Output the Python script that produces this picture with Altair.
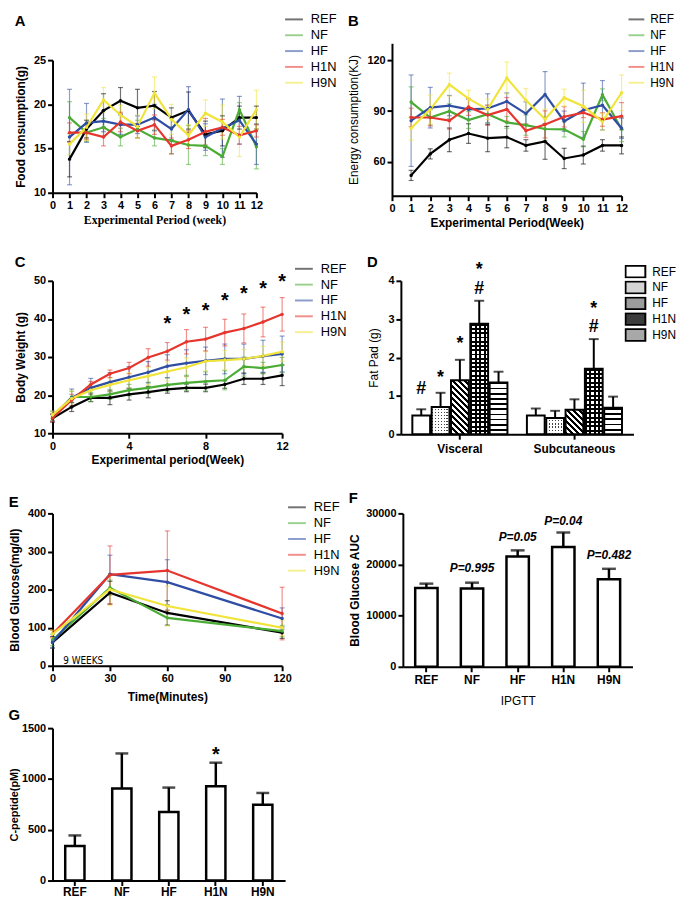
import altair as alt
import pandas as pd

GROUPS = ["REF", "NF", "HF", "H1N", "H9N"]
COLORS = ["#000000", "#4aac34", "#2f4ea3", "#e5352d", "#f0e43a"]
FONT = "Liberation Sans"

# ---------------- Panel A: food consumption ----------------
weeks_a = list(range(1, 13))
a_ref = [13.8, 17.2, 19.3, 20.4, 19.6, 19.85, 18.5, 19.3, 16.6, 17.0, 18.5, 18.5]
a_nf = [18.5, 16.8, 17.4, 16.3, 17.2, 16.2, 15.9, 15.4, 15.3, 14.1, 19.4, 15.2]
a_hf = [16.3, 17.9, 18.1, 17.7, 17.7, 18.5, 17.2, 19.4, 16.3, 17.3, 18.2, 15.5]
a_h1n = [16.8, 16.8, 16.3, 18.0, 17.0, 17.7, 15.3, 16.0, 16.9, 17.4, 16.5, 17.0]
a_h9n = [15.5, 17.4, 20.5, 18.8, 17.5, 21.3, 18.3, 16.5, 19.0, 18.0, 16.3, 19.4]
a_ref_e = [2.0, 1.0, 1.9, 1.5, 2.1, 1.6, 1.1, 2.1, 1.5, 1.7, 1.3, 1.3]
a_nf_e = [1.8, 1.0, 1.0, 1.0, 1.0, 0.9, 1.5, 2.2, 1.1, 0.9, 0.8, 2.5]
a_hf_e = [5.4, 2.2, 1.2, 1.1, 1.0, 1.5, 1.2, 2.6, 1.5, 3.3, 2.7, 2.3]
a_h1n_e = [1.1, 0.8, 1.0, 1.1, 0.8, 1.1, 0.9, 1.0, 1.5, 0.9, 1.0, 0.7]
a_h9n_e = [1.2, 1.5, 1.4, 1.1, 1.3, 1.8, 1.7, 1.2, 1.5, 1.9, 2.2, 2.2]

# ---------------- Panel B: energy consumption ----------------
weeks_b = list(range(1, 13))
b_ref = [52, 64.7, 73, 76.7, 74, 74.6, 69.7, 72, 62, 64, 69.7, 69.7]
b_nf = [95.3, 86.2, 89.9, 84.7, 88.2, 83.3, 81.7, 79.4, 79.2, 73.4, 99.6, 79.2]
b_hf = [84.3, 92, 93.2, 91, 91.5, 95.7, 88.5, 99.8, 84, 90.5, 93.4, 79.8]
b_h1n = [86.2, 86.2, 84.3, 92.4, 87.6, 91, 78.4, 82.1, 86.6, 89.1, 85, 87]
b_h9n = [79.8, 91, 105.6, 97.3, 91, 109.5, 96.3, 85.2, 97.9, 92.8, 83.7, 100.8]
b_ref_e = [3, 3, 7, 5.8, 8, 6.3, 3.4, 10.5, 6, 5.3, 3.4, 5]
b_nf_e = [9, 4.5, 4.4, 5, 5, 3.5, 6, 7, 4.5, 4.5, 3.5, 7.3]
b_hf_e = [27, 12, 6, 6, 8.7, 5, 7, 13.5, 6, 16, 14.6, 6]
b_h1n_e = [5.5, 5, 5, 5, 6, 7, 4, 8, 6, 3, 4, 8]
b_h9n_e = [7, 8.5, 6.8, 5, 6, 9.5, 7, 6, 5, 9.5, 5, 10.5]

# ---------------- Panel C: body weight ----------------
weeks_c = list(range(0, 13))
c_ref = [13.9, 16.9, 19.3, 19.3, 20.2, 20.8, 21.5, 21.9, 21.9, 22.8, 24.3, 24.3, 25.2]
c_nf = [14.2, 19.5, 19.5, 20.2, 21.3, 21.9, 22.7, 23.2, 23.6, 23.9, 27.5, 27.1, 27.9]
c_hf = [14.5, 19.3, 21.9, 23.4, 24.7, 26.0, 27.6, 28.4, 29.0, 29.5, 29.5, 30.2, 30.8]
c_h1n = [14.0, 18.7, 22.8, 25.6, 27.1, 29.9, 31.5, 34.0, 34.7, 36.4, 37.5, 39.2, 41.2]
c_h9n = [14.8, 19.1, 21.3, 22.7, 23.9, 25.0, 26.2, 27.3, 28.9, 29.2, 29.5, 30.3, 31.4]
c_ref_e = [1.0, 1.2, 1.0, 1.8, 1.5, 1.5, 1.0, 1.0, 1.0, 1.0, 1.5, 1.5, 2.7]
c_nf_e = [1.0, 1.5, 1.2, 1.3, 1.5, 1.5, 1.8, 2.0, 2.5, 2.5, 2.5, 1.5, 2.0]
c_hf_e = [1.3, 2.3, 2.5, 2.5, 2.8, 2.8, 3.0, 3.5, 3.6, 3.9, 3.9, 4.2, 4.7]
c_h1n_e = [1.0, 1.5, 0.8, 1.0, 1.5, 2.3, 2.3, 3.2, 3.1, 3.5, 3.8, 3.9, 4.4]
c_h9n_e = [1.0, 2.0, 1.5, 1.8, 2.0, 2.3, 2.5, 2.5, 2.5, 2.5, 2.5, 2.5, 2.5]
c_star_weeks = [6, 7, 8, 9, 10, 11, 12]
c_star_y = [39.9, 42.2, 43.3, 45.9, 47.7, 49.1, 51.1]

# ---------------- Panel D: fat pad ----------------
REGIONS = ["Visceral", "Subcutaneous"]
d_visceral = [0.49, 0.71, 1.41, 2.88, 1.35]
d_visceral_e = [0.16, 0.37, 0.53, 0.60, 0.28]
d_subcut = [0.49, 0.42, 0.64, 1.71, 0.69]
d_subcut_e = [0.18, 0.19, 0.27, 0.77, 0.29]
d_mark_region = ["Visceral", "Visceral", "Visceral", "Visceral", "Visceral", "Subcutaneous", "Subcutaneous"]
d_mark_group = ["REF", "NF", "HF", "H1N", "H1N", "H1N", "H1N"]
d_mark_text = ["#", "*", "*", "#", "*", "#", "*"]
d_mark_y = [1.18, 1.6, 2.47, 3.78, 4.4, 2.79, 3.4]
D_LEGEND_FILLS = ["#ffffff", "#d4d4d4", "#9c9c9c", "#3c3c3c", "#a8a8a8"]

# ---------------- Panel E: IPGTT ----------------
times_e = [0, 30, 60, 120]
e_ref = [61.6, 191.8, 138.8, 86.8]
e_nf = [67.7, 204.8, 125.8, 91.1]
e_hf = [61.6, 240.3, 219.5, 124.0]
e_h1n = [83.3, 238.6, 249.9, 137.1]
e_h9n = [83.3, 200.4, 157.0, 99.8]
e_ref_e = [15, 30, 32, 15]
e_nf_e = [15, 20, 20, 15]
e_hf_e = [15, 50, 59, 28]
e_h1n_e = [10, 76, 104, 69]
e_h9n_e = [10, 42, 52, 20]

# ---------------- Panel F: AUC ----------------
f_auc = [15420, 15290, 21550, 23420, 17100]
f_auc_e = [840, 1160, 1220, 2840, 2060]
f_p_group = ["NF", "HF", "H1N", "H9N"]
f_p_text = ["P=0.995", "P=0.05", "P=0.04", "P=0.482"]
f_p_y = [19220, 25280, 28510, 21930]

# ---------------- Panel G: C-peptide ----------------
g_cpep = [340, 907, 674, 927, 745]
g_cpep_e = [104, 344, 241, 233, 117]
g_star_group = ["H1N"]
g_star_y = [1283]


def long_df(xs, series, errs):
    rows = []
    for g, vals, es in zip(GROUPS, series, errs):
        for x, v, e in zip(xs, vals, es):
            rows.append({"x": x, "group": g, "value": v, "lo": v - e, "hi": v + e})
    return pd.DataFrame(rows)


def panel_title(letter, dy=0):
    return alt.TitleParams(letter, anchor="start", fontSize=15, fontWeight="bold",
                           font=FONT, color="black", offset=4, dy=dy)


def line_panel(df, xdom, xticks, ydom, yticks, yrange, xtitle, ytitle, legx, legy,
               xtitle_font=FONT, ytitle_weight="bold", title_pad_y=6, title_pad_x=4,
               leg_font=13, leg_sym=324, leg_off=7):
    xs = alt.Scale(domain=xdom, nice=False, zero=False)
    ys_kw = dict(domain=ydom, nice=False, zero=False)
    if yrange is not None:
        ys_kw["range"] = yrange
    ys = alt.Scale(**ys_kw)
    xax = alt.Axis(values=xticks, title=xtitle, titleFont=xtitle_font, labelFlush=False,
                   labelOverlap=False, titlePadding=title_pad_x, labelPadding=2, format="d")
    yax = alt.Axis(values=yticks, title=ytitle, titleFontWeight=ytitle_weight,
                   titlePadding=title_pad_y, labelPadding=2, format="d")
    legend = alt.Legend(orient="none", legendX=legx, legendY=legy, title=None,
                        symbolType="stroke", symbolStrokeWidth=2, symbolSize=leg_sym,
                        labelFontSize=leg_font, labelFont=FONT, labelColor="black",
                        labelOffset=leg_off, clipHeight=13.7, rowPadding=2)
    col = alt.Color("group:N", scale=alt.Scale(domain=GROUPS, range=COLORS), legend=legend)
    X = alt.X("x:Q", scale=xs, axis=xax)

    base = alt.Chart(df)
    err = base.mark_rule(strokeWidth=1.2, opacity=0.55).encode(
        x=X, y=alt.Y("lo:Q", scale=ys, axis=yax), y2="hi:Q", color=col)
    cap_hi = base.mark_tick(orient="horizontal", size=5, thickness=1.2, opacity=0.55).encode(
        x=X, y=alt.Y("hi:Q", scale=ys, axis=yax), color=col)
    cap_lo = base.mark_tick(orient="horizontal", size=5, thickness=1.2, opacity=0.55).encode(
        x=X, y=alt.Y("lo:Q", scale=ys, axis=yax), color=col)
    line = base.mark_line(strokeWidth=2.2).encode(
        x=X, y=alt.Y("value:Q", scale=ys, axis=yax), color=col)
    pts = base.mark_circle(size=12, opacity=1).encode(
        x=X, y=alt.Y("value:Q", scale=ys, axis=yax), color=col)
    return [err, cap_hi, cap_lo, line, pts], ys, yax


# ----- A -----
dfa = long_df(weeks_a, [a_ref, a_nf, a_hf, a_h1n, a_h9n],
              [a_ref_e, a_nf_e, a_hf_e, a_h1n_e, a_h9n_e])
layers_a, _, _ = line_panel(dfa, [0, 12], list(range(13)), [10, 25], [10, 15, 20, 25], [151, 17],
                            "Experimental Period (week)", "Food consumption(g)", 234, -31,
                            xtitle_font="Liberation Serif")
chart_a = alt.layer(*layers_a).properties(width=206, height=151, title=panel_title("A", 21))

# ----- B -----
dfb = long_df(weeks_b, [b_ref, b_nf, b_hf, b_h1n, b_h9n],
              [b_ref_e, b_nf_e, b_hf_e, b_h1n_e, b_h9n_e])
layers_b, _, _ = line_panel(dfb, [0, 12], list(range(13)), [40, 130], [60, 90, 120], None,
                            "Experimental Period(Week)", "Energy consumption(KJ)", 238, -31,
                            ytitle_weight="normal", leg_font=12, leg_sym=256, leg_off=5)
chart_b = alt.layer(*layers_b).properties(width=232, height=154, title=panel_title("B", 21))

# ----- C -----
dfc = long_df(weeks_c, [c_ref, c_nf, c_hf, c_h1n, c_h9n],
              [c_ref_e, c_nf_e, c_hf_e, c_h1n_e, c_h9n_e])
layers_c, ysc, yaxc = line_panel(dfc, [0, 12], list(range(13)), [10, 50], [10, 20, 30, 40, 50], None,
                                 "Experimental period(Week)", "Body Weight (g)", 244, -19)
stars_c = alt.Chart(pd.DataFrame({"x": c_star_weeks, "y": c_star_y, "t": ["*"] * 7})).mark_text(
    fontSize=20, fontWeight="bold", font=FONT, color="black", baseline="middle", dy=5).encode(
    x=alt.X("x:Q", scale=alt.Scale(domain=[0, 12], nice=False, zero=False)),
    y=alt.Y("y:Q", scale=ysc, axis=yaxc), text="t:N")
chart_c = alt.layer(*layers_c, stars_c).properties(width=232, height=154, title=panel_title("C", 12))

# ----- D -----
rows_d = []
for r, vals, errs in [("Visceral", d_visceral, d_visceral_e), ("Subcutaneous", d_subcut, d_subcut_e)]:
    for g, v, e in zip(GROUPS, vals, errs):
        rows_d.append({"region": r, "group": g, "value": v, "upper": v + e})
dfd = pd.DataFrame(rows_d)

D_W, D_H = 235, 155
xd = alt.X("region:N", scale=alt.Scale(domain=REGIONS, paddingInner=0.17, paddingOuter=0.1),
           axis=alt.Axis(title=None, labelAngle=0, labelFontSize=12, labelPadding=4))
xod = alt.XOffset("group:N", scale=alt.Scale(domain=GROUPS, paddingInner=0.08))
yd_scale = alt.Scale(domain=[0, 4], nice=False, zero=True)
yd_axis = alt.Axis(values=[0, 1, 2, 3, 4], title="Fat Pad (g)", titleFontWeight="normal",
                   titlePadding=8, labelPadding=2, format="d")
yd = alt.Y("value:Q", scale=yd_scale, axis=yd_axis)

d_legend = alt.Legend(orient="none", legendX=226, legendY=-16, title=None,
                      symbolType="M-1,-0.6H1V0.6H-1Z", symbolSize=400,
                      symbolStrokeColor="black", symbolStrokeWidth=2, symbolOpacity=1,
                      labelFontSize=12, labelFont=FONT, labelColor="black",
                      labelOffset=6, clipHeight=13.5, rowPadding=2)
based = alt.Chart(dfd)
d_layers = [based.mark_bar(strokeWidth=0).encode(
    x=xd, xOffset=xod, y=yd,
    fill=alt.Fill("group:N", scale=alt.Scale(domain=GROUPS, range=D_LEGEND_FILLS), legend=d_legend))]


def stripes(n, frac, dark, light, x1, y1, x2, y2):
    stops = []
    for i in range(n):
        a = i / n
        b = (i + frac) / n
        c = (i + 1) / n
        stops += [alt.GradientStop(color=dark, offset=a), alt.GradientStop(color=dark, offset=b),
                  alt.GradientStop(color=light, offset=b), alt.GradientStop(color=light, offset=c)]
    return alt.LinearGradient(gradient="linear", stops=stops, x1=x1, y1=y1, x2=x2, y2=y2)


BAR_W = 18.0
PX_PER = D_H / 4.0
CLEAR = "rgba(255,255,255,0)"
for r, vals in [("Visceral", d_visceral), ("Subcutaneous", d_subcut)]:
    for g, v in zip(GROUPS, vals):
        h = v * PX_PER
        flt = (alt.datum.region == r) & (alt.datum.group == g)
        fills = []
        if g == "NF":
            fills.append(stripes(6, 0.4, "#444444", "#ffffff", 0, 0, 1, 0))
            fills.append(stripes(max(2, round(h / 3)), 0.6, "#ffffff", CLEAR, 0, 0, 0, 1))
        elif g == "HF":
            s = (BAR_W + h) / (BAR_W ** 2 + h ** 2)
            n = max(3, round((BAR_W + h) / 1.414 / 4.2))
            fills.append(stripes(n, 0.45, "#000000", "#ffffff", 0, 1, s * BAR_W, 1 - s * h))
        elif g == "H1N":
            fills.append(stripes(max(2, round(h / 4.3)), 0.45, "#000000", "#ffffff", 0, 0, 0, 1))
            fills.append(stripes(4, 0.45, "#000000", CLEAR, 0, 0, 1, 0))
        elif g == "H9N":
            fills.append(stripes(max(2, round(h / 5)), 0.35, "#000000", "#ffffff", 0, 0, 0, 1))
        for f in fills:
            d_layers.append(based.transform_filter(flt).mark_bar(fill=f, strokeWidth=0).encode(
                x=xd, xOffset=xod, y=yd))

d_layers.append(based.mark_bar(fillOpacity=0, stroke="black", strokeWidth=2).encode(
    x=xd, xOffset=xod, y=yd))
d_layers.append(based.mark_rule(color="black", strokeWidth=2).encode(
    x=xd, xOffset=xod, y=yd, y2="upper:Q"))
d_layers.append(based.mark_tick(orient="horizontal", color="black", size=10, thickness=2).encode(
    x=xd, xOffset=xod, y=alt.Y("upper:Q", scale=yd_scale, axis=yd_axis)))
dmarks = pd.DataFrame({"region": d_mark_region, "group": d_mark_group,
                       "t": d_mark_text, "y": d_mark_y})
for sym, shift in [("*", 5), ("#", 0)]:
    d_layers.append(alt.Chart(dmarks).transform_filter(alt.datum.t == sym).mark_text(
        fontSize=18, fontWeight="bold", font=FONT, color="black", baseline="middle", dy=shift).encode(
        x=xd, xOffset=xod, y=alt.Y("y:Q", scale=yd_scale, axis=yd_axis), text="t:N"))
chart_d = alt.layer(*d_layers).properties(width=D_W, height=D_H, title=panel_title("D", 13))

# ----- E -----
dfe = long_df(times_e, [e_ref, e_nf, e_hf, e_h1n, e_h9n],
              [e_ref_e, e_nf_e, e_hf_e, e_h1n_e, e_h9n_e])
layers_e, yse, yaxe = line_panel(dfe, [0, 120], [0, 30, 60, 90, 120], [0, 400],
                                 [0, 100, 200, 300, 400], None,
                                 "Time(Minutes)", "Blood Glucose(mg/dl)", 237, -13, title_pad_x=8)
note_e = alt.Chart(pd.DataFrame({"x": [16], "y": [13], "t": ["9 WEEKS"]})).mark_text(
    fontSize=10, font="DejaVu Sans Condensed", color="black", baseline="middle").encode(
    x=alt.X("x:Q", scale=alt.Scale(domain=[0, 120], nice=False, zero=False)),
    y=alt.Y("y:Q", scale=yse, axis=yaxe), text="t:N")
chart_e = alt.layer(*layers_e, note_e).properties(width=232, height=154, title=panel_title("E", 14))


# ----- F and G: simple bar charts -----
def bar_panel(vals, errs, letter, tdy, width, height, ydom, yticks, ytitle, xtitle,
              ann_groups, ann_text, ann_y, ann_font, pi, po, cap, ytitle_size=12, ytitle_pad=4,
              xlabel_pad=3):
    df = pd.DataFrame({"group": GROUPS, "value": vals, "upper": [v + e for v, e in zip(vals, errs)]})
    X = alt.X("group:N", scale=alt.Scale(domain=GROUPS, paddingInner=pi, paddingOuter=po),
              axis=alt.Axis(title=xtitle, labelAngle=0, labelFontSize=12, labelPadding=xlabel_pad,
                            titleFontWeight="normal", titleFontSize=12, titlePadding=10))
    ys = alt.Scale(domain=ydom, nice=False, zero=True)
    yax = alt.Axis(values=yticks, title=ytitle, titlePadding=ytitle_pad, labelPadding=2, format="d",
                   titleFontSize=ytitle_size)
    base = alt.Chart(df)
    layers = [
        base.mark_rule(color="black", strokeWidth=2.5).encode(
            x=X, y=alt.Y("value:Q", scale=ys, axis=yax), y2="upper:Q"),
        base.mark_tick(orient="horizontal", color="black", size=cap, thickness=2.5).encode(
            x=X, y=alt.Y("upper:Q", scale=ys, axis=yax)),
        base.mark_bar(fill="white", stroke="black", strokeWidth=2.5).encode(
            x=X, y=alt.Y("value:Q", scale=ys, axis=yax)),
    ]
    ann = pd.DataFrame({"group": ann_groups, "t": ann_text, "y": ann_y})
    layers.append(alt.Chart(ann).mark_text(color="black", baseline="middle", **ann_font).encode(
        x=X, y=alt.Y("y:Q", scale=ys, axis=yax), text="t:N"))
    return alt.layer(*layers).properties(width=width, height=height, title=panel_title(letter, tdy))


chart_f = bar_panel(f_auc, f_auc_e, "F", 3, 232, 155, [0, 30000], [0, 10000, 20000, 30000],
                    "Blood Glucose AUC", "IPGTT", f_p_group, f_p_text, f_p_y,
                    dict(fontSize=12, fontWeight="bold", fontStyle="italic", font=FONT),
                    0.51, 0.27, 14)
chart_g = bar_panel(g_cpep, g_cpep_e, "G", 5, 235, 154, [0, 1500], [0, 500, 1000, 1500],
                    "C-peptide(pM)", None, g_star_group, ["*"], g_star_y,
                    dict(fontSize=20, fontWeight="bold", font=FONT, dy=5),
                    0.59, 0.27, 13, ytitle_size=11, ytitle_pad=2, xlabel_pad=1)

RES = dict(color="independent", fill="independent",
           x="independent", y="independent", xOffset="independent")

row1 = alt.hconcat(chart_a, chart_b, spacing=10).resolve_scale(**RES)
row2 = alt.hconcat(chart_c, chart_d, spacing=19).resolve_scale(**RES)
row3 = alt.hconcat(chart_e, chart_f, spacing=8).resolve_scale(**RES)

top = alt.vconcat(row1, row2, spacing=27).resolve_scale(**RES)
mid = alt.vconcat(top, row3, spacing=26).resolve_scale(**RES)
full = alt.vconcat(mid, chart_g, spacing=2).resolve_scale(**RES)

chart = full.properties(padding=0).configure(font=FONT).configure_view(stroke=None).configure_axis(
    domainColor="black", domainWidth=2, tickColor="black", tickWidth=2, tickSize=5,
    labelColor="black", labelFontWeight="bold", labelFontSize=11, labelFont=FONT,
    titleColor="black", titleFontWeight="bold", titleFontSize=12, titleFont=FONT, grid=False)

chart.save("out.html", embed_options={"renderer": "svg", "actions": False})
